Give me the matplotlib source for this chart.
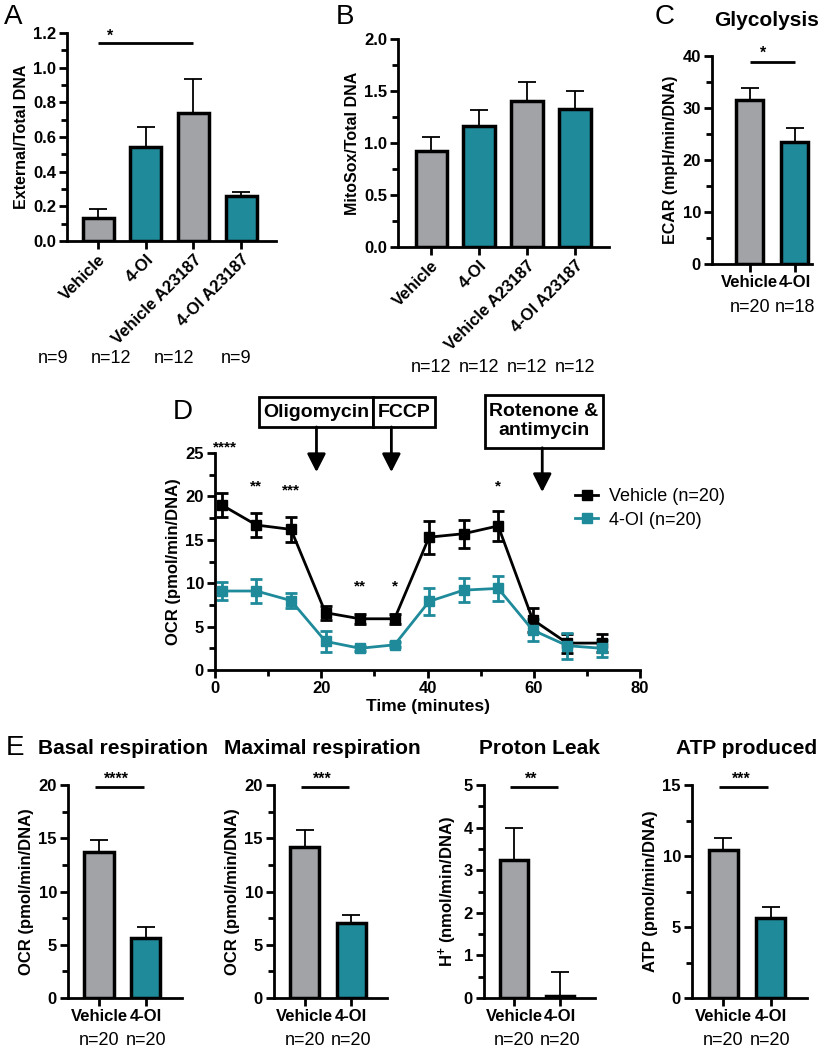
import numpy as np
import matplotlib
matplotlib.use("Agg")
import matplotlib.pyplot as plt
from matplotlib.ticker import MultipleLocator
from matplotlib.patches import Rectangle
from matplotlib.transforms import blended_transform_factory

plt.rcParams['font.family'] = ['Liberation Sans', 'DejaVu Sans']
plt.rcParams['mathtext.fontset'] = 'custom'
plt.rcParams['mathtext.rm'] = 'Liberation Sans'
plt.rcParams['mathtext.bf'] = 'Liberation Sans:bold'

GRAY = '#a2a3a7'
TEAL = '#1e8a9a'

## panel A
a_groups = ['Vehicle', '4-OI', 'Vehicle A23187', '4-OI A23187']
a_mean = [0.13, 0.545, 0.74, 0.26]
a_err = [0.055, 0.115, 0.195, 0.025]
a_n = ['n=9', 'n=12', 'n=12', 'n=9']
a_n_x = [-0.94, 0.27, 1.6, 2.89]

## panel B
b_groups = ['Vehicle', '4-OI', 'Vehicle A23187', '4-OI A23187']
b_mean = [0.92, 1.16, 1.40, 1.33]
b_err = [0.14, 0.16, 0.19, 0.17]
b_n = ['n=12', 'n=12', 'n=12', 'n=12']

## panel C
c_groups = ['Vehicle', '4-OI']
c_mean = [31.5, 23.5]
c_err = [2.4, 2.7]
c_n = ['n=20', 'n=18']

## panel D (seahorse trace)
d_time = [1.3, 7.8, 14.3, 20.8, 27.3, 33.8, 40.3, 46.8, 53.3, 59.8, 66.3, 72.8]
veh_ocr = [19.0, 16.7, 16.2, 6.6, 5.9, 5.9, 15.3, 15.7, 16.6, 5.8, 3.1, 3.1]
veh_sem = [1.35, 1.4, 1.4, 0.8, 0.6, 0.6, 1.9, 1.6, 1.7, 1.4, 1.1, 1.0]
oi_ocr = [9.1, 9.1, 8.0, 3.3, 2.5, 2.9, 7.9, 9.2, 9.4, 4.6, 2.8, 2.5]
oi_sem = [1.0, 1.4, 0.9, 1.2, 0.3, 0.3, 1.6, 1.4, 1.4, 1.3, 1.5, 1.0]
d_sig_x = [1.8, 7.8, 14.3, 27.3, 33.8, 53.3]
d_sig_y = [25.2, 20.7, 20.2, 9.2, 9.2, 20.7]
d_sig = ['****', '**', '***', '**', '*', '*']

## panel E
e_titles = ['Basal respiration', 'Maximal respiration', 'Proton Leak', 'ATP produced']
e_ylabels = ['OCR (pmol/min/DNA)', 'OCR (pmol/min/DNA)',
             r'$\mathbf{H^{+}}$ (nmol/min/DNA)', 'ATP (pmol/min/DNA)']
e_veh = [13.7, 14.2, 3.25, 10.4]
e_veh_err = [1.1, 1.6, 0.75, 0.9]
e_oi = [5.6, 7.0, 0.04, 5.6]
e_oi_err = [1.1, 0.8, 0.58, 0.8]
e_ymax = [20, 20, 5, 15]
e_major = [5, 5, 1, 5]
e_minor = [2.5, 2.5, 0.5, 2.5]
e_sig = ['****', '***', '**', '***']
e_n = ['n=20', 'n=20']

W, H = 827, 1050
TICK_FS = 12
LAB_FS = 11.5
N_FS = 13

def px_rect(l, r, b, t):
    return [l / W, 1 - b / H, (r - l) / W, (b - t) / H]

def style(ax, ymax, major, minor):
    for s in ['top', 'right']:
        ax.spines[s].set_visible(False)
    for s in ['left', 'bottom']:
        ax.spines[s].set_linewidth(2)
    ax.set_ylim(0, ymax)
    ax.yaxis.set_major_locator(MultipleLocator(major))
    ax.yaxis.set_minor_locator(MultipleLocator(minor))
    ax.tick_params(which='major', width=2, length=6, labelsize=TICK_FS, pad=2)
    ax.tick_params(which='minor', width=2, length=4)
    ax.tick_params(axis='x', which='minor', bottom=False)
    for lab in ax.get_yticklabels():
        lab.set_fontweight('bold')

def bars(ax, labels, means, errs, xlim, width, rotate=False):
    x = np.arange(len(labels))
    cols = [GRAY if i % 2 == 0 else TEAL for i in range(len(labels))]
    ax.errorbar(x, means, yerr=[np.zeros(len(errs)), errs], fmt='none',
                ecolor='black', elinewidth=1.3, capsize=6.5, capthick=1.3, zorder=1)
    ax.bar(x, means, width=width, color=cols, edgecolor='black', linewidth=2.5, zorder=2)
    ax.set_xlim(*xlim)
    ax.set_xticks(x)
    if rotate:
        ax.set_xticklabels(labels, rotation=45, ha='right', rotation_mode='anchor',
                           fontweight='bold', fontsize=TICK_FS)
    else:
        ax.set_xticklabels(labels, fontweight='bold', fontsize=TICK_FS)

def nlabels(ax, labels, y, xs=None):
    tr = blended_transform_factory(ax.transData, ax.transAxes)
    if xs is None:
        xs = range(len(labels))
    for x, s in zip(xs, labels):
        ax.text(x, y, s, transform=tr, ha='center', va='center', fontsize=N_FS)

def sig(ax, x0, x1, y, xs, ys, s):
    ax.plot([x0, x1], [y, y], color='black', lw=2, clip_on=False, solid_capstyle='butt')
    ax.text(xs, ys, s, ha='center', va='baseline', fontsize=11.5, fontweight='bold')

fig = plt.figure(figsize=(W / 100, H / 100), dpi=100)

# A
axA = fig.add_axes(px_rect(67, 276, 241, 33))
bars(axA, a_groups, a_mean, a_err, (-0.65, 3.73), 0.65, rotate=True)
style(axA, 1.2, 0.2, 0.1)
axA.yaxis.set_major_formatter(plt.FormatStrFormatter('%.1f'))
axA.set_ylabel('External/Total DNA', fontsize=LAB_FS, fontweight='bold', labelpad=3)
sig(axA, 0, 2, 1.142, 0.25, 1.155, '*')
nlabels(axA, a_n, -0.565, a_n_x)

# B
axB = fig.add_axes(px_rect(398, 609, 247, 39))
bars(axB, b_groups, b_mean, b_err, (-0.69, 3.71), 0.65, rotate=True)
style(axB, 2.0, 0.5, 0.25)
axB.yaxis.set_major_formatter(plt.FormatStrFormatter('%.1f'))
axB.set_ylabel('MitoSox/Total DNA', fontsize=LAB_FS, fontweight='bold', labelpad=3)
nlabels(axB, b_n, -0.58)

# C
axC = fig.add_axes(px_rect(712, 812, 264, 56))
bars(axC, c_groups, c_mean, c_err, (-0.84, 1.38), 0.6)
style(axC, 40, 10, 5)
axC.set_ylabel('ECAR (mpH/min/DNA)', fontsize=LAB_FS, fontweight='bold', labelpad=3)
sig(axC, 0, 1, 38.8, 0.3, 39.6, '*')
nlabels(axC, c_n, -0.21)

# D
axD = fig.add_axes(px_rect(215, 640, 670, 453))
axD.errorbar(d_time, veh_ocr, yerr=veh_sem, fmt='none', ecolor='black',
             elinewidth=2, capsize=4.5, capthick=2, zorder=2)
axD.errorbar(d_time, oi_ocr, yerr=oi_sem, fmt='none', ecolor=TEAL,
             elinewidth=2, capsize=4.5, capthick=2, zorder=2)
axD.plot(d_time, veh_ocr, '-s', color='black', lw=2, ms=7.5, label='Vehicle (n=20)', zorder=3)
axD.plot(d_time, oi_ocr, '-s', color=TEAL, lw=2, ms=7.5, label='4-OI (n=20)', zorder=3)
axD.set_xlim(0, 80)
style(axD, 25, 5, 2.5)
axD.xaxis.set_major_locator(MultipleLocator(20))
axD.xaxis.set_minor_locator(MultipleLocator(10))
axD.tick_params(axis='x', which='minor', bottom=True, width=2, length=4)
for lab in axD.get_xticklabels():
    lab.set_fontweight('bold')
axD.set_xlabel('Time (minutes)', fontsize=12.5, fontweight='bold', labelpad=2)
axD.set_ylabel('OCR (pmol/min/DNA)', fontsize=12, fontweight='bold', labelpad=3)
for x, y, s in zip(d_sig_x, d_sig_y, d_sig):
    axD.text(x, y, s, ha='center', va='baseline', fontsize=11, fontweight='bold')
axD.legend(loc='upper left', bbox_to_anchor=(0.83, 0.87), frameon=False, fontsize=13,
           handlelength=1.3, handletextpad=0.6, labelspacing=0.35, borderaxespad=0)

# injection boxes
boxes = [(8.2, 28.0, 21.6, 3.4, 'Oligomycin'), (29.8, 28.0, 11.6, 3.4, 'FCCP'),
         (50.8, 25.6, 22.3, 6.1, 'Rotenone &\nantimycin')]
for bx, by, bw, bh, txt in boxes:
    axD.add_patch(Rectangle((bx, by), bw, bh, transform=axD.transData, clip_on=False,
                            facecolor='white', edgecolor='black', lw=2))
    axD.text(bx + bw / 2, by + bh / 2, txt, ha='center', va='center', fontsize=14,
             fontweight='bold', linespacing=1.15)
arrows = [(19.1, 28.0, 22.8), (33.2, 28.0, 22.8), (61.6, 25.6, 20.5)]
for ax_x, y0, y1 in arrows:
    axD.annotate('', xy=(ax_x, y1), xytext=(ax_x, y0), annotation_clip=False,
                 arrowprops=dict(arrowstyle='-|>,head_length=0.55,head_width=0.28',
                                 lw=2, color='black', mutation_scale=20,
                                 shrinkA=0, shrinkB=0))

# E
e_rects = [(68, 182), (274, 387), (484, 595), (692, 807)]
e_title_x = [123, 322, 539, 747]
for i in range(4):
    l, r = e_rects[i]
    ax = fig.add_axes(px_rect(l, r, 998, 785))
    bars(ax, ['Vehicle', '4-OI'], [e_veh[i], e_oi[i]], [e_veh_err[i], e_oi_err[i]],
         (-0.66, 1.77), 0.62)
    style(ax, e_ymax[i], e_major[i], e_minor[i])
    ax.set_ylabel(e_ylabels[i], fontsize=12, fontweight='bold', labelpad=3)
    ym = e_ymax[i]
    sig(ax, -0.08, 0.95, ym * 0.992, 0.38, ym * 1.008, e_sig[i])
    nlabels(ax, e_n, -0.2)
    fig.text(e_title_x[i] / W, 1 - 748 / H, e_titles[i], ha='center', va='center',
             fontsize=15, fontweight='bold')

fig.text(767 / W, 1 - 20 / H, 'Glycolysis', ha='center', va='center',
         fontsize=15, fontweight='bold')

# panel letters
for lx, ly, s in [(13, 17, 'A'), (345, 17, 'B'), (665, 17, 'C'), (183, 412, 'D'), (15, 748, 'E')]:
    fig.text(lx / W, 1 - ly / H, s, ha='center', va='center', fontsize=20)

fig.savefig('out.png', dpi=100)
